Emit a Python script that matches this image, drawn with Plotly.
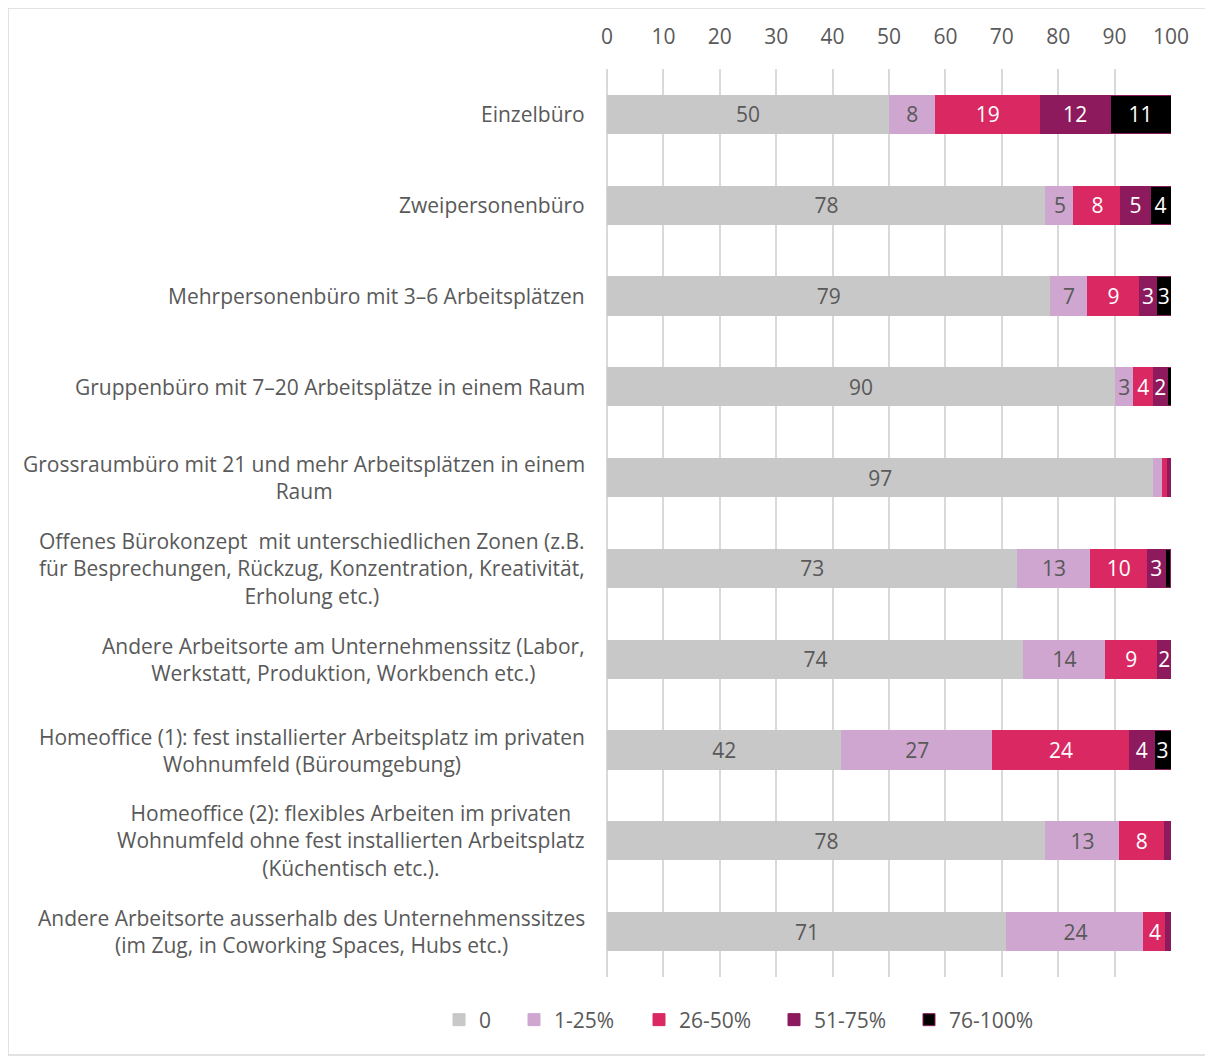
import plotly.graph_objects as go

# categories, top to bottom
categories = [
    "Einzelbüro",
    "Zweipersonenbüro",
    "Mehrpersonenbüro mit 3–6 Arbeitsplätzen",
    "Gruppenbüro mit 7–20 Arbeitsplätze in einem Raum",
    "Grossraumbüro mit 21 und mehr Arbeitsplätzen in einem<br>Raum",
    "Offenes Bürokonzept  mit unterschiedlichen Zonen (z.B.<br>für Besprechungen, Rückzug, Konzentration, Kreativität,<br>Erholung etc.)",
    "Andere Arbeitsorte am Unternehmenssitz (Labor,<br>Werkstatt, Produktion, Workbench etc.)",
    "Homeoffice (1): fest installierter Arbeitsplatz im privaten<br>Wohnumfeld (Büroumgebung)",
    "Homeoffice (2): flexibles Arbeiten im privaten<br>Wohnumfeld ohne fest installierten Arbeitsplatz<br>(Küchentisch etc.).",
    "Andere Arbeitsorte ausserhalb des Unternehmenssitzes<br>(im Zug, in Coworking Spaces, Hubs etc.)",
]

share_0 = [50.0, 77.8, 78.6, 90.1, 96.9, 72.8, 73.9, 41.6, 77.8, 70.9]
share_1_25 = [8.2, 5.0, 6.6, 3.2, 1.6, 12.9, 14.4, 26.8, 13.0, 24.3]
share_26_50 = [18.6, 8.3, 9.2, 3.6, 0.9, 10.1, 9.3, 24.2, 8.0, 3.9]
share_51_75 = [12.4, 5.2, 3.0, 2.4, 0.6, 3.2, 2.4, 4.4, 1.2, 0.9]
share_76_100 = [10.8, 3.7, 2.6, 0.7, 0.0, 0.9, 0.0, 3.0, 0.0, 0.0]

series = [
    ("0", share_0, "#C8C8C8", "#595959"),
    ("1-25%", share_1_25, "#CFA6D0", "#595959"),
    ("26-50%", share_26_50, "#DA2862", "white"),
    ("51-75%", share_51_75, "#8C1A5D", "white"),
    ("76-100%", share_76_100, "#000000", "white"),
]

font = "Open Sans"
fsize = 21
grey_text = "#595959"
grid = "#D9D9D9"

# plot area in figure pixels
L, T, PW, PH = 599, 61, 564, 908
W, H = 1213, 1059

# one legend per series so the entries can be spaced like the original
legend_left_px = [431, 506, 631, 766, 901]
legend_ids = ["legend", "legend2", "legend3", "legend4", "legend5"]

fig = go.Figure()
for (name, vals, color, txtcol), lid in zip(series, legend_ids):
    labels = [f"{round(v)}" if v >= 2 else "" for v in vals]
    fig.add_trace(go.Bar(
        name=name,
        legend=lid,
        y=list(range(len(categories))),
        x=vals,
        orientation="h",
        width=0.42,
        marker=dict(color=color,
                    line=dict(color="#8C1A5D" if name == "76-100%" else color, width=1)),
        text=labels,
        textposition="inside",
        insidetextanchor="middle",
        textfont=dict(color=txtcol, size=fsize, family=font),
        hoverinfo="x+name",
    ))

# category labels, centred lines like the original
for i, cat in enumerate(categories):
    fig.add_annotation(
        x=0, xref="paper", xanchor="right", xshift=-20,
        y=i, yref="y",
        text=cat, showarrow=False, align="center",
        font=dict(family=font, size=fsize, color=grey_text),
    )

legend_y = -(1012 - (T + PH)) / PH
layout_legends = {}
for lid, px in zip(legend_ids, legend_left_px):
    layout_legends[lid] = dict(
        orientation="h",
        x=(px - L) / PW, xanchor="left",
        y=legend_y, yanchor="middle",
        font=dict(size=fsize, color=grey_text, family=font),
        bgcolor="rgba(0,0,0,0)",
    )

fig.update_layout(
    barmode="stack",
    width=W,
    height=H,
    margin=dict(l=L, r=W - L - PW, t=T, b=H - T - PH),
    plot_bgcolor="white",
    paper_bgcolor="white",
    font=dict(family=font, size=fsize, color=grey_text),
    uniformtext=dict(minsize=fsize, mode="show"),
    showlegend=True,
    **layout_legends,
)
fig.update_xaxes(
    range=[0, 100],
    dtick=10,
    side="top",
    showgrid=True,
    gridcolor=grid,
    gridwidth=1.5,
    zeroline=True,
    zerolinecolor=grid,
    zerolinewidth=1.5,
    ticks="outside",
    ticklen=16,
    tickcolor="rgba(0,0,0,0)",
    tickfont=dict(size=fsize, color=grey_text),
    fixedrange=True,
)
fig.update_yaxes(
    range=[len(categories) - 0.5, -0.5],
    showticklabels=False,
    showgrid=False,
    zeroline=False,
)

# light frame around the whole chart
fig.add_shape(type="rect", xref="paper", yref="paper",
              x0=-L / PW, x1=(1203 - L) / PW,
              y0=(T + PH - 1047) / PH, y1=(T + PH) / PH,
              line=dict(color=grid, width=1.5), fillcolor="rgba(0,0,0,0)", layer="below")

fig.write_html("out.html")
